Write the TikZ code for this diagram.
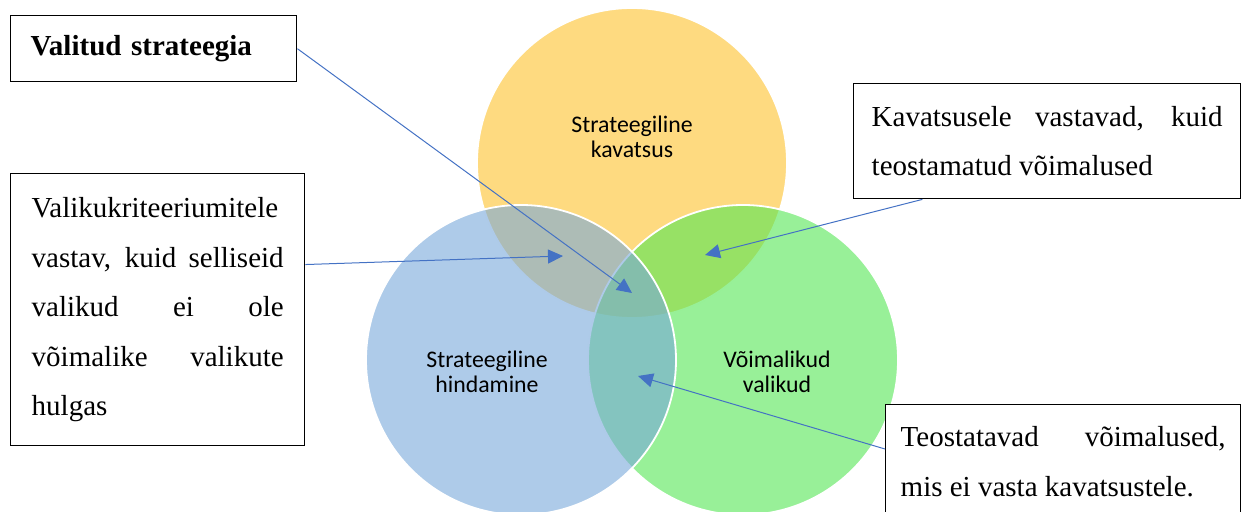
\documentclass[tikz,border=0pt]{standalone}
\usepackage{fontspec}
\setmainfont{Liberation Serif}
\newfontfamily\calibri{Carlito}
\usetikzlibrary{arrows.meta,calc}
\tolerance=10000
\definecolor{kavfill}{RGB}{254,218,128}
\definecolor{hindfill}{RGB}{120,168,218}
\definecolor{voimfill}{RGB}{83,230,83}
\definecolor{arrowblue}{HTML}{4472C4}
\tikzset{venn/.style={circle,minimum size=155pt,inner sep=0pt,draw=white,line width=.9pt},
vlab/.style={font=\calibri\fontsize{11.9}{12.6}\selectfont,align=center},
box/.style={draw=black,line width=.7pt,fill=white,anchor=north west,align=justify,inner ysep=0pt,font=\fontsize{14.5}{24.75}\selectfont},
pointer/.style={-{Triangle[length=7.5pt,width=7pt]},arrowblue,line width=.5pt}}

\begin{document}
\begin{tikzpicture}[x=.5pt,y=-.5pt]
\useasboundingbox (0,0) rectangle (1243,512);
\node[venn,fill=kavfill] (kav) at (632,163) {};
\node[venn,fill=voimfill,fill opacity=.6] (voim) at (743,360) {};
\node[venn,fill=hindfill,fill opacity=.6] (hind) at (521,360) {};
\node[vlab] (kavlab) at (632,137) {Strateegiline\\kavatsus};
\node[vlab] (hindlab) at (487,372) {Strateegiline\\hindamine};
\node[vlab] (voimlab) at (777,372) {Võimalikud\\valikud};
\node[box,align=left,text width=123pt,inner xsep=10pt,minimum width=143pt,minimum height=33pt] (valitud) at (10,15) {\bfseries Valitud strateegia};
\node[box,text width=126pt,inner xsep=10.5pt,minimum width=147pt,minimum height=136pt] (kriteer) at (10,173)
{Valikukriteeriumitele\linebreak vastav, kuid selliseid\linebreak valikud ei ole\linebreak võimalike valikute\linebreak hulgas};
\node[box,text width=175.5pt,inner xsep=9pt,minimum width=193.5pt,minimum height=57.5pt] (kavbox) at (853,83)
{Kavatsusele vastavad, kuid\linebreak teostamatud võimalused};
\node[box,text width=162.5pt,inner xsep=7.5pt,minimum width=177.5pt,minimum height=57pt] (teosta) at (885,404)
{Teostatavad võimalused,\linebreak mis ei vasta kavatsustele.};
\coordinate (tipmid) at (632,293);
\coordinate (tipkh) at (563,256);
\coordinate (tipkv) at (705,255);
\coordinate (tiphv) at (638,376);
\draw[pointer] (valitud.east) -- (tipmid);
\draw[pointer] (kriteer.17) -- (tipkh);
\draw[pointer] (kavbox.205) -- (tipkv);
\draw[pointer] ($(teosta.north west)+(0,45)$) -- (tiphv);
\end{tikzpicture}
\end{document}
